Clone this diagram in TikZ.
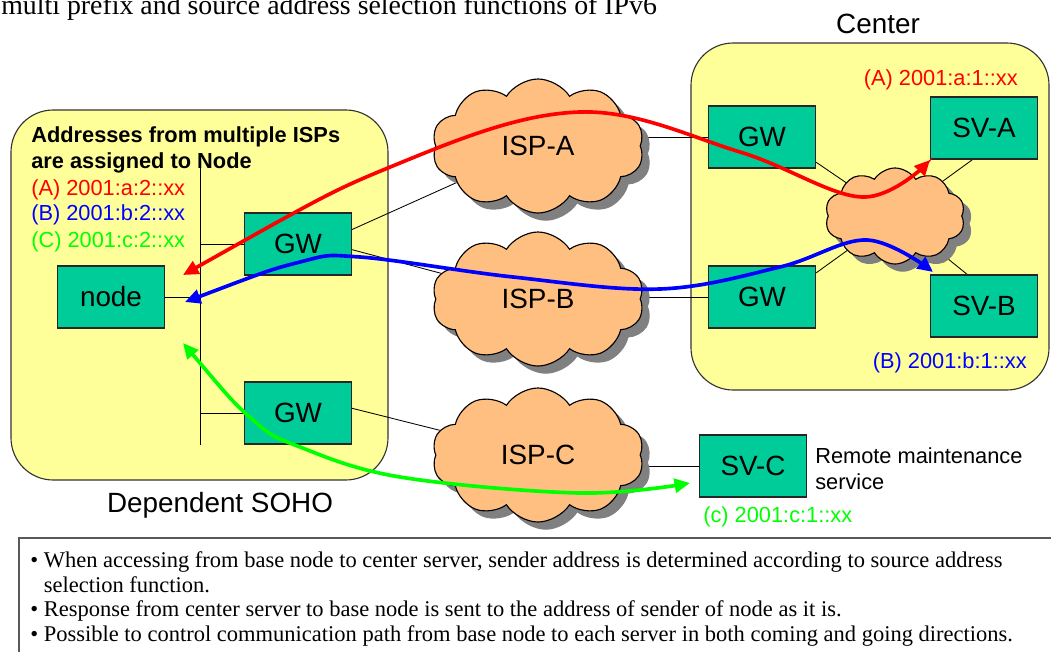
\documentclass[tikz,border=0pt]{standalone}
\usepackage{fontspec}
\setmainfont{Liberation Serif}
\setsansfont{Liberation Sans}
\usetikzlibrary{arrows.meta, shapes.symbols, shadows, backgrounds, positioning}
\definecolor{sitefill}{HTML}{FFFF99}
\definecolor{boxfill}{HTML}{00CC99}
\definecolor{cloudfill}{HTML}{FFBF80}
\tikzset{
    site/.style={draw=black!80, line width=0.8pt, fill=sitefill, rounded corners=30pt},
    dev/.style={draw=black!85, line width=0.8pt, fill=boxfill, rectangle,
        minimum width=2.675cm, minimum height=1.55cm, inner sep=0pt,
        font=\sffamily\fontsize{19.8}{23}\selectfont},
    isp/.style={cloud, cloud puffs=10, cloud puff arc=115, cloud ignores aspect,
        draw, line width=0.8pt, fill=cloudfill,
        drop shadow={shadow xshift=5.5pt, shadow yshift=-5.5pt, opacity=1, fill=black!50},
        minimum width=5.3cm, minimum height=3.35cm, inner sep=0pt,
        font=\sffamily\fontsize{19.8}{23}\selectfont},
    lbl/.style={inner sep=0pt, font=\sffamily\fontsize{19.8}{23}\selectfont},
    addr/.style={inner sep=0pt, font=\sffamily\fontsize{15.5}{18.4}\selectfont},
    wire/.style={draw=black, line width=0.6pt},
    route/.style={line width=2.6pt, {Triangle[length=11pt,width=10pt]}-{Triangle[length=11pt,width=10pt]}}
}
\begin{document}
\begin{tikzpicture}[x=0.025cm, y=-0.025cm]
    \useasboundingbox (0,0) rectangle (1051,651);
    % title line, cut at the top edge
    \node[anchor=base west, inner sep=0pt, font=\fontsize{19.8}{24}\selectfont] (title) at (1,15)
        {multi prefix and source address selection functions of IPv6};
    \begin{scope}[on background layer]
    \draw[site] (11,110) rectangle (388,480);
    \draw[site] (691,43) rectangle (1049,390);
    \end{scope}
    \node[lbl] (sohol) at (220,505) {Dependent SOHO};
    \node[lbl] (centerl) at (878,24) {Center};
    % SOHO side
    \node[addr, anchor=west, align=left, font=\sffamily\bfseries\fontsize{15.5}{18.4}\selectfont] (hdr) at (31,150)
        {Addresses from multiple ISPs\\are assigned to Node};
    \node[addr, anchor=west, text=red] (adra) at (31,190) {(A) 2001:a:2::xx};
    \node[addr, anchor=west, text=blue] (adrb) at (31,215) {(B) 2001:b:2::xx};
    \node[addr, anchor=west, text=green] (adrc) at (31,242) {(C) 2001:c:2::xx};
    \coordinate (busT) at (200,168);
    \coordinate (busB) at (200,445);
    \node[dev] (nd) at (111,297) {node};
    \node[dev] (gws1) at (298,244) {GW};
    \node[dev] (gws2) at (298,413) {GW};
    % providers
    \node[isp] (ispa) at (538,146) {ISP-A};
    \node[isp] (ispb) at (538,299) {ISP-B};
    \node[isp] (ispc) at (538,455) {ISP-C};
    % center side
    \node[dev] (gwc1) at (762,137) {GW};
    \node[dev] (gwc2) at (762,297) {GW};
    \node[dev] (sva) at (984,128) {SV-A};
    \node[dev] (svb) at (984,306) {SV-B};
    \node[isp, minimum width=3.5cm, minimum height=2.4cm] (core) at (895,216) {};
    \node[addr, anchor=east, text=red] (adrsa) at (1018,80) {(A) 2001:a:1::xx};
    \node[addr, anchor=east, text=blue] (adrsb) at (1027,363) {(B) 2001:b:1::xx};
    % remote server
    \node[dev] (svc) at (753,466) {SV-C};
    \node[addr, anchor=west, align=left] (svcl) at (815,469) {Remote maintenance\\service};
    \node[addr, anchor=west, text=green] (adrsc) at (703,517) {(c) 2001:c:1::xx};
    \begin{scope}[on background layer]
    \draw[wire] (busT) -- (busB);
    \draw[wire] (nd.east) -- (nd.east -| busT);
    \draw[wire] (gws1.west) -- (gws1.west -| busT);
    \draw[wire] (gws2.west) -- (gws2.west -| busT);
    \draw[wire] (gws1.15) -- (ispa);
    \draw[wire] (gws1.-6) -- (ispb);
    \draw[wire] (gws2.5) -- (ispc);
    \draw[wire] (gwc1.west) -- (gwc1.west -| ispa.center);
    \draw[wire] (gwc2.west) -- (gwc2.west -| ispb.center);
    \draw[wire] (svc.west) -- (svc.west -| ispc.center);
    \draw[wire] (gwc1.-25) -- (core.center);
    \draw[wire] (gwc2.24) -- (core.center);
    \draw[wire] (sva.250) -- (core.center);
    \draw[wire] (svb.118) -- (core.center);
    \end{scope}
    % routes
    \coordinate (redS) at (183,275);
    \coordinate (redE) at (930,160);
    \coordinate (blueS) at (185,302);
    \coordinate (blueE) at (933,272);
    \coordinate (grnS) at (183,343);
    \coordinate (grnE) at (690,483);
    \draw[route, red] plot[smooth, tension=0.6] coordinates {(redS) (400,163) (580,112) (740,152) (862,197) (redE)};
    \draw[route, blue] plot[smooth, tension=0.6] coordinates {(blueS) (300,262) (360,257) (513,277) (660,289) (780,267) (867,240) (blueE)};
    \draw[route, green] plot[smooth, tension=0.6] coordinates {(grnS) (253,420) (300,447) (400,477) (580,493) (grnE)};
    % notes
    \draw[draw=black!65, line width=1.2pt] (19,538) rectangle (1070,680);
    \node[anchor=north west, inner sep=0pt, align=left, font=\fontsize{16}{17.7}\selectfont] (notes) at (30,551)
        {• When accessing from base node to center server, sender address is determined according to source address\\
         \hphantom{• }selection function.\\
         • Response from center server to base node is sent to the address of sender of node as it is.\\
         • Possible to control communication path from base node to each server in both coming and going directions.};
\end{tikzpicture}
\end{document}
